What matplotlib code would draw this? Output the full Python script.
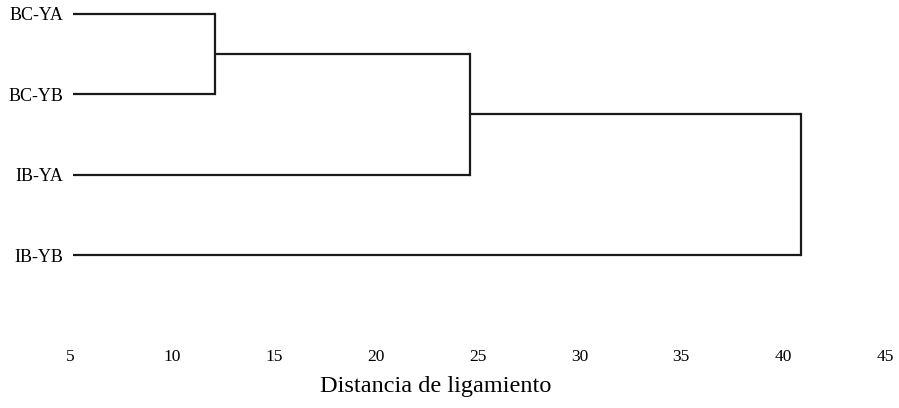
import matplotlib
matplotlib.use("Agg")
import matplotlib.pyplot as plt

# Data
labels = ["BC-YA", "BC-YB", "IB-YA", "IB-YB"]
# merges: (child_a, child_b, linkage distance); clusters indexed after leaves
merge_a = [0, 4, 5]
merge_b = [1, 2, 3]
merge_dist = [12.1, 24.65, 40.9]
leaf_start = 5.15
x_ticks = [5, 10, 15, 20, 25, 30, 35, 40, 45]
xlabel = "Distancia de ligamiento"

plt.rcParams['font.family'] = ['Liberation Serif', 'DejaVu Serif']

W, H = 899, 408
fig = plt.figure(figsize=(W / 100, H / 100), dpi=100)

# axes placement in pixels
left_px, right_px = 70, 885
top_px, bottom_px = 5.45, 342
ax = fig.add_axes([left_px / W, 1 - bottom_px / H,
                   (right_px - left_px) / W, (bottom_px - top_px) / H])

# cluster positions
xs = [leaf_start] * len(labels)
ys = list(range(len(labels)))
col = '#1a1a1a'
lw = 1.6
for a, b, d in zip(merge_a, merge_b, merge_dist):
    ax.plot([xs[a], d], [ys[a], ys[a]], color=col, lw=lw, solid_capstyle='butt', clip_on=False)
    ax.plot([xs[b], d], [ys[b], ys[b]], color=col, lw=lw, solid_capstyle='butt', clip_on=False)
    ax.plot([d, d], [ys[a], ys[b]], color=col, lw=lw, solid_capstyle='projecting', clip_on=False)
    xs.append(d)
    ys.append((ys[a] + ys[b]) / 2)

ax.set_xlim(5, 45)
ax.set_ylim(4.08, -0.1)
ax.set_xticks(x_ticks)
ax.set_xticklabels([str(t) for t in x_ticks], fontsize=12.5)
ax.set_yticks(range(len(labels)))
ax.set_yticklabels(labels, fontsize=13)
ax.tick_params(axis='x', length=0, pad=5)
ax.tick_params(axis='y', length=0, pad=5)
for s in ax.spines.values():
    s.set_visible(False)

fig.text(436 / W, 1 - 392 / H, xlabel, fontsize=17.5, ha='center', va='baseline')

fig.savefig("out.png", dpi=100, facecolor='white')
